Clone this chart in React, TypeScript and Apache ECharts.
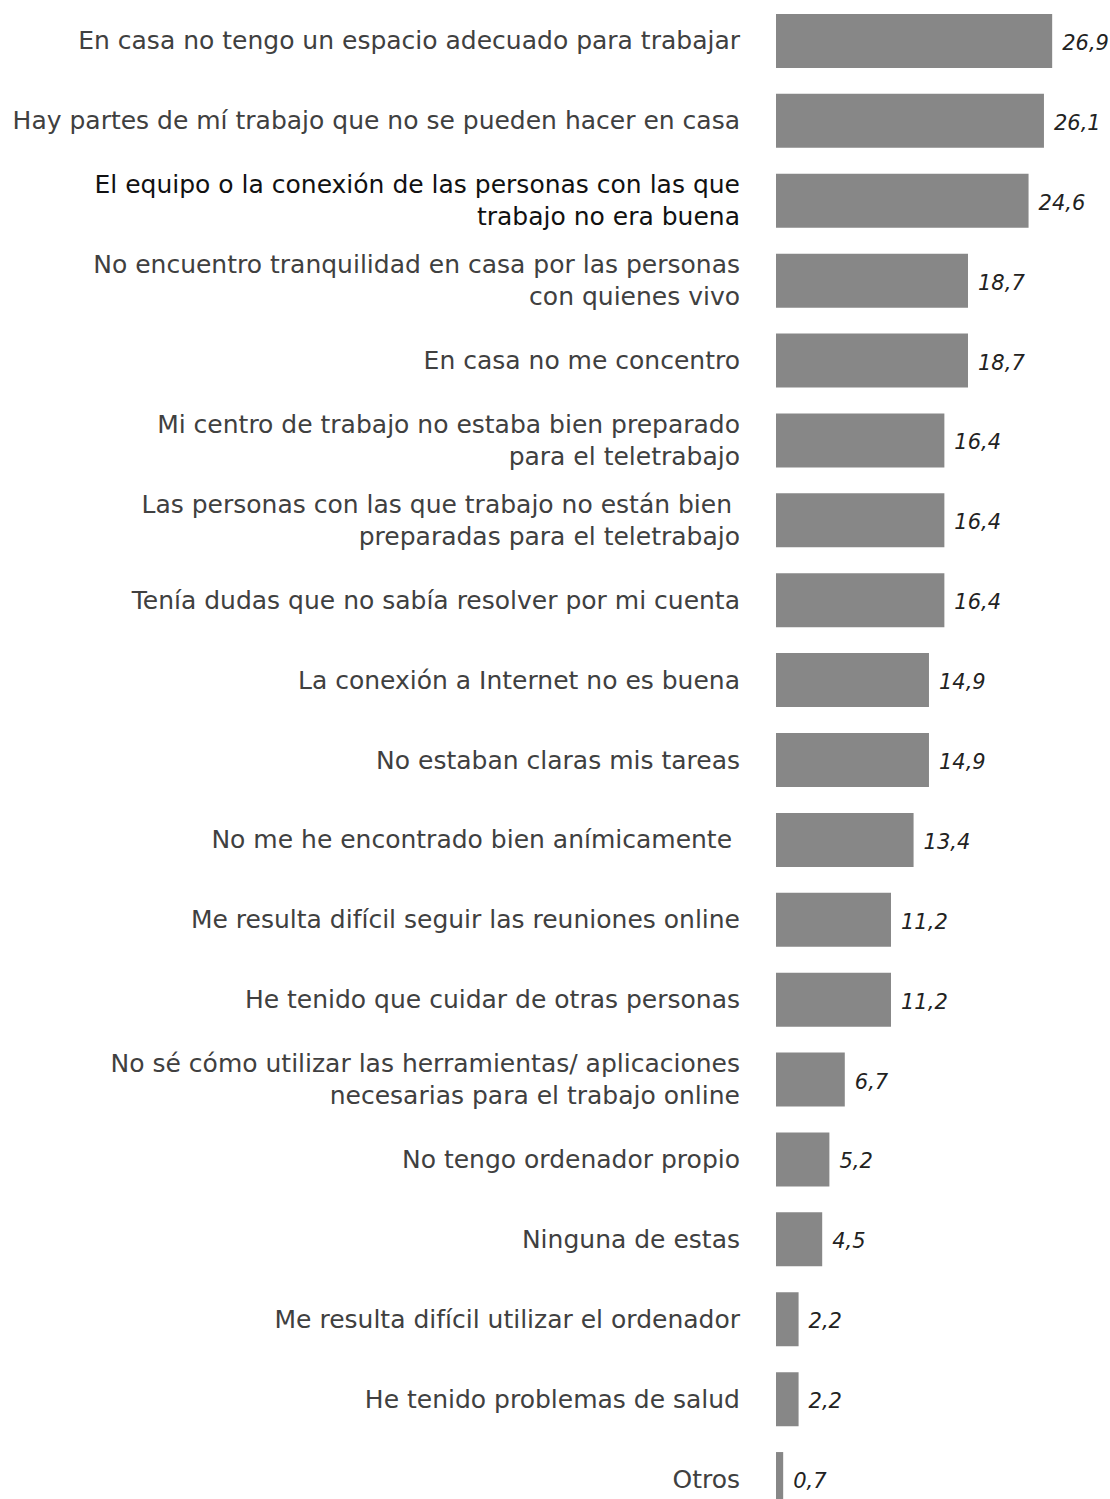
import React, { useEffect, useRef } from "react";
import * as echarts from "echarts";

const categories: string[] = [
  "En casa no tengo un espacio adecuado para trabajar",
  "Hay partes de mí trabajo que no se pueden hacer en casa",
  "El equipo o la conexión de las personas con las que\ntrabajo no era buena",
  "No encuentro tranquilidad en casa por las personas\ncon quienes vivo",
  "En casa no me concentro",
  "Mi centro de trabajo no estaba bien preparado\npara el teletrabajo",
  "Las personas con las que trabajo no están bien \npreparadas para el teletrabajo",
  "Tenía dudas que no sabía resolver por mi cuenta",
  "La conexión a Internet no es buena",
  "No estaban claras mis tareas",
  "No me he encontrado bien anímicamente ",
  "Me resulta difícil seguir las reuniones online",
  "He tenido que cuidar de otras personas",
  "No sé cómo utilizar las herramientas/ aplicaciones\nnecesarias para el trabajo online",
  "No tengo ordenador propio",
  "Ninguna de estas",
  "Me resulta difícil utilizar el ordenador",
  "He tenido problemas de salud",
  "Otros",
];

const values: number[] = [
  26.9, 26.1, 24.6, 18.7, 18.7, 16.4, 16.4, 16.4, 14.9, 14.9, 13.4, 11.2, 11.2,
  6.7, 5.2, 4.5, 2.2, 2.2, 0.7,
];

const darkLabelIndex = 2;
const FONT = "'DejaVu Sans', sans-serif";

export default function App() {
  const ref = useRef<HTMLDivElement>(null);
  useEffect(() => {
    if (!ref.current) return;
    const chart = echarts.init(ref.current, undefined, { renderer: "svg" });
    chart.setOption({
      animation: false,
      backgroundColor: "#ffffff",
      grid: { left: 776, top: 1, width: 308, height: 1518, containLabel: false },
      xAxis: {
        type: "value",
        min: 0,
        max: 30,
        show: false,
        splitLine: { show: false },
      },
      yAxis: {
        type: "category",
        inverse: true,
        data: categories,
        axisLine: { show: false },
        axisTick: { show: false },
        axisLabel: {
          margin: 36,
          fontFamily: FONT,
          fontSize: 25,
          color: "#404040",
          lineHeight: 32,
          align: "right",
          formatter: (v: string, i: number) =>
            i === darkLabelIndex
              ? v
                  .split("\n")
                  .map((l) => `{d|${l}}`)
                  .join("\n")
              : v,
          rich: {
            d: { color: "#111111", fontFamily: FONT, fontSize: 25, lineHeight: 32 },
          },
        },
      },
      series: [
        {
          type: "bar",
          data: values,
          barWidth: 54,
          itemStyle: { color: "#878787" },
          label: {
            show: true,
            position: "right",
            distance: 10,
            offset: [0, 2],
            fontFamily: FONT,
            fontStyle: "italic",
            fontSize: 21,
            color: "#222222",
            formatter: (p: any) => p.value.toFixed(1).replace(".", ","),
          },
        },
      ],
    });
    return () => chart.dispose();
  }, []);
  return (
    <div
      style={{
        position: "absolute",
        left: 0,
        top: 0,
        width: 1110,
        height: 1499,
        overflow: "hidden",
        background: "#ffffff",
      }}
    >
      <div ref={ref} style={{ width: 1110, height: 1530 }} />
    </div>
  );
}
